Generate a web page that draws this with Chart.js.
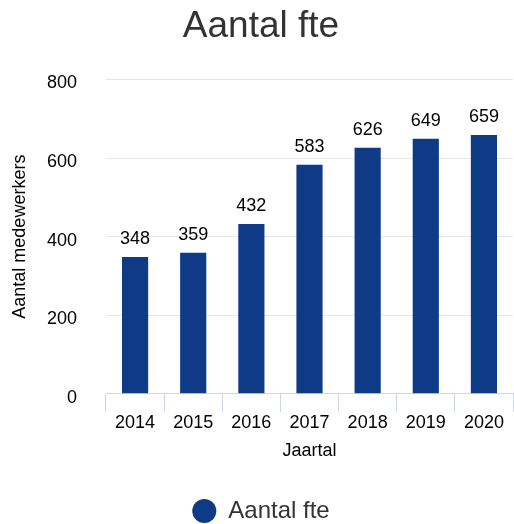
<!DOCTYPE html>
<html>
<head>
<meta charset="utf-8">
<script src="https://cdn.jsdelivr.net/npm/chart.js@4"></script>
<style>
html,body{margin:0;padding:0;background:#fff;}
#c{display:block;}
</style>
</head>
<body>
<canvas id="c" width="514" height="524"></canvas>
<script>
const categories = ['2014','2015','2016','2017','2018','2019','2020'];
const fteValues = [348, 359, 432, 583, 626, 649, 659];
const yTicks = [0, 200, 400, 600, 800];
const seriesName = 'Aantal fte';
const titleText = 'Aantal fte';
const yTitle = 'Aantal medewerkers';
const xTitle = 'Jaartal';

const FONT = "'Liberation Sans', Arial, sans-serif";

const valueLabels = {
  id: 'valueLabels',
  afterDatasetsDraw(chart) {
    const ctx = chart.ctx;
    ctx.save();
    ctx.font = '18px ' + FONT;
    ctx.fillStyle = '#000';
    ctx.textAlign = 'center';
    ctx.textBaseline = 'alphabetic';
    chart.data.datasets.forEach((ds, i) => {
      const meta = chart.getDatasetMeta(i);
      meta.data.forEach((el, j) => {
        ctx.fillText(String(ds.data[j]), el.x, el.y - 13);
      });
    });
    ctx.restore();
  }
};

new Chart(document.getElementById('c'), {
  type: 'bar',
  data: {
    labels: categories,
    datasets: [{
      label: seriesName,
      data: fteValues,
      backgroundColor: '#0f3a85',
      borderWidth: 0,
      barPercentage: 0.9,
      categoryPercentage: 0.5
    }]
  },
  options: {
    responsive: false,
    animation: false,
    layout: { padding: { left: 9, right: 1, top: 0, bottom: -9 } },
    plugins: {
      title: {
        display: true,
        text: titleText,
        color: '#333333',
        font: { family: FONT, size: 37, weight: 'normal' },
        padding: { top: 5, bottom: 30.1 }
      },
      legend: {
        position: 'bottom',
        labels: {
          usePointStyle: true,
          pointStyle: 'circle',
          boxWidth: 24,
          boxHeight: 17,
          color: '#333333',
          font: { family: FONT, size: 24 },
          padding: 1
        }
      },
      tooltip: { enabled: false }
    },
    scales: {
      x: {
        grid: {
          display: true,
          offset: true,
          drawOnChartArea: false,
          drawTicks: true,
          tickLength: 18,
          color: '#ccd6eb'
        },
        border: { display: true, color: '#ccd6eb' },
        ticks: {
          color: '#000',
          font: { family: FONT, size: 18 },
          padding: 0,
          maxRotation: 0
        },
        title: {
          display: true,
          text: xTitle,
          color: '#000',
          font: { family: FONT, size: 18 },
          padding: { top: 7, bottom: 36 }
        }
      },
      y: {
        min: 0,
        max: 800,
        afterBuildTicks(scale) { scale.ticks = yTicks.map(v => ({ value: v })); },
        afterFit(scale) { scale.width = 97; },
        grid: {
          color: '#e6e6e6',
          drawTicks: false
        },
        border: { display: false },
        ticks: {
          color: '#000',
          font: { family: FONT, size: 18 },
          padding: 29,
          labelOffset: 4
        },
        title: {
          display: true,
          text: yTitle,
          color: '#000',
          font: { family: FONT, size: 18 },
          padding: { top: 0, bottom: 0 }
        }
      }
    }
  },
  plugins: [valueLabels]
});
</script>
</body>
</html>
